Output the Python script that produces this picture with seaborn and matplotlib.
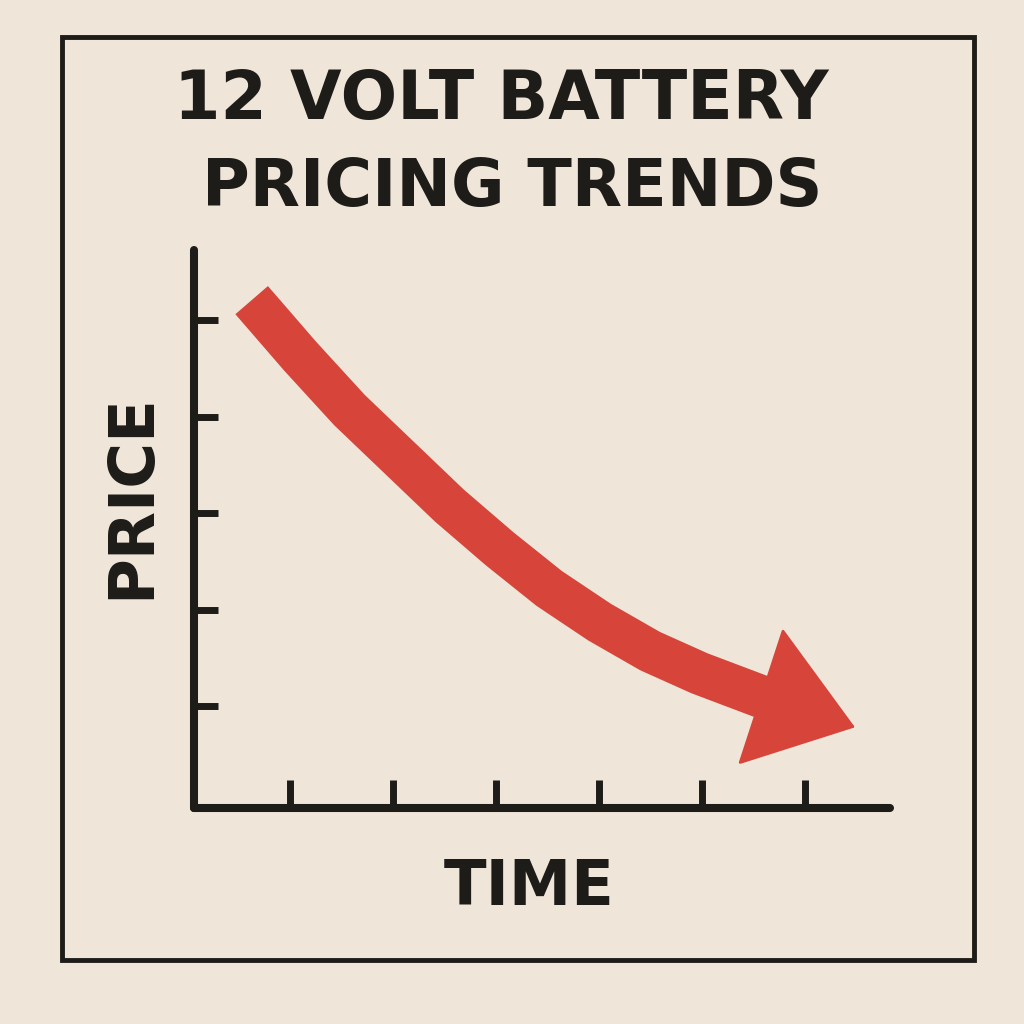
import matplotlib
matplotlib.use('Agg')
import matplotlib.pyplot as plt
import seaborn as sns
import pandas as pd
from matplotlib.patches import Rectangle

# Values (time units, price units)
time = [0.63, 1.10, 1.58, 2.07, 2.55, 3.04, 3.52, 4.01, 4.50, 4.98, 5.60]
price = [5.21, 4.63, 4.07, 3.57, 3.08, 2.63, 2.22, 1.87, 1.57, 1.34, 1.09]
arrow_tip = (6.49, 0.78)
x_ticks = [1, 2, 3, 4, 5, 6]
y_ticks = [1, 2, 3, 4, 5]

title_lines = ['12 VOLT BATTERY', 'PRICING TRENDS']
x_label = 'TIME'
y_label = 'PRICE'

paper = '#efe6d9'
ink = '#1e1c18'
red = '#d6443a'

df = pd.DataFrame({'time': time, 'price': price})

sns.set_theme(style='white')
plt.rcParams['font.family'] = ['DejaVu Sans']

fig = plt.figure(figsize=(10.24, 10.24), dpi=100, facecolor=paper)
ax = fig.add_axes([194 / 1024, 216 / 1024, 696 / 1024, 558 / 1024])
ax.set_facecolor(paper)

sns.lineplot(data=df, x='time', y='price', sort=False, ax=ax, color=red,
             linewidth=31, solid_capstyle='butt')
ax.lines[0].set_solid_joinstyle('round')

# arrow head at the end of the trend line
ax.annotate('', xy=arrow_tip, xytext=(time[-1], price[-1]),
            arrowprops=dict(arrowstyle='-|>,head_length=1.0,head_width=0.72',
                            mutation_scale=69, color=red, lw=2,
                            shrinkA=0, shrinkB=0))

ax.set_xlim(0.07, 6.83)
ax.set_ylim(-0.057, 5.73)
ax.set_xticks(x_ticks)
ax.set_yticks(y_ticks)
ax.set_xticklabels([])
ax.set_yticklabels([])
ax.tick_params(axis='x', direction='in', length=20, width=5, color=ink, bottom=True)
ax.tick_params(axis='y', direction='in', length=17, width=5, color=ink, left=True)

sns.despine(ax=ax)
for side in ['left', 'bottom']:
    ax.spines[side].set_linewidth(5.8)
    ax.spines[side].set_color(ink)
    ax.spines[side].set_capstyle('round')

ax.set_xlabel(x_label, fontsize=45, fontweight='bold', color=ink)
ax.set_ylabel(y_label, fontsize=45, fontweight='bold', color=ink)
ax.xaxis.set_label_coords(0.481, -0.09)
ax.yaxis.set_label_coords(-0.045, 0.559)

fig.text(501 / 1024, 1 - 100 / 1024, title_lines[0], ha='center', va='center',
         fontsize=48, fontweight='bold', color=ink)
fig.text(512 / 1024, 1 - 188 / 1024, title_lines[1], ha='center', va='center',
         fontsize=47, fontweight='bold', color=ink)

# outer frame
fig.add_artist(Rectangle((62 / 1024, 64 / 1024), 912 / 1024, 923 / 1024,
                         transform=fig.transFigure, fill=False, lw=3.5, ec=ink))

fig.savefig('out.png', dpi=100, facecolor=paper)
